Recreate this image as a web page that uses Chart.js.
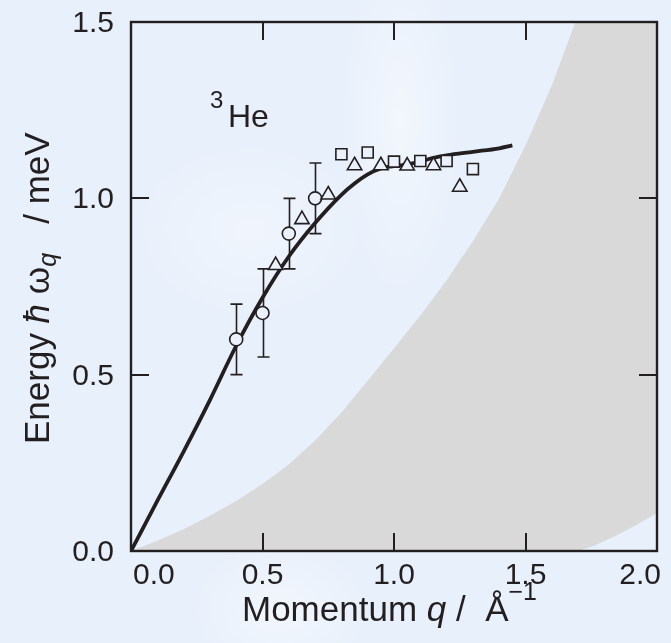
<!DOCTYPE html>
<html>
<head>
<meta charset="utf-8">
<script src="https://cdn.jsdelivr.net/npm/chart.js@4.4.1/dist/chart.umd.min.js"></script>
<style>
  html, body { margin: 0; padding: 0; }
  body {
    width: 671px; height: 643px; overflow: hidden;
    background-color: #e8f0fb;
    background-image:
      radial-gradient(ellipse 60px 180px at 400px 120px, rgba(255,255,255,0.45), rgba(255,255,255,0) 100%),
      radial-gradient(ellipse 120px 90px at 250px 230px, rgba(255,255,255,0.35), rgba(255,255,255,0) 100%),
      radial-gradient(ellipse 90px 70px at 280px 610px, rgba(255,255,255,0.45), rgba(255,255,255,0) 100%);
  }
  canvas { display: block; }
</style>
</head>
<body>
<canvas id="chart" width="671" height="643"></canvas>
<script>
// Axis ticks
const qTicks = [0.0, 0.5, 1.0, 1.5, 2.0];
const eTicks = [0.0, 0.5, 1.0, 1.5];

// Dispersion curve (solid line)
const curveQ = [0, 0.1, 0.2, 0.3, 0.4, 0.5, 0.6, 0.7, 0.8, 0.85, 0.9, 0.95, 1.0, 1.05, 1.1, 1.15, 1.2, 1.3, 1.4, 1.45];
const curveE = [0, 0.142, 0.282, 0.428, 0.582, 0.718, 0.835, 0.93, 1.01, 1.042, 1.068, 1.085, 1.091, 1.096, 1.104, 1.115, 1.122, 1.132, 1.142, 1.15];

// Open circles with error bars
const circleQ    = [0.4, 0.5, 0.6, 0.7];
const circleE    = [0.6, 0.675, 0.9, 1.0];
const circleLow  = [0.5, 0.55, 0.8, 0.9];
const circleHigh = [0.7, 0.8, 1.0, 1.1];

// Open triangles
const triQ = [0.55, 0.65, 0.75, 0.85, 0.95, 1.05, 1.15, 1.25];
const triE = [0.81, 0.94, 1.01, 1.093, 1.093, 1.092, 1.093, 1.032];

// Open squares
const sqQ = [0.8, 0.9, 1.0, 1.1, 1.2, 1.3];
const sqE = [1.125, 1.13, 1.104, 1.106, 1.106, 1.083];

// Particle-hole continuum: upper and lower edges
const upperQ = [0, 0.1, 0.2, 0.3, 0.4, 0.5, 0.6, 0.7, 0.8, 0.9, 1.0, 1.1, 1.2, 1.3, 1.4, 1.5, 1.6, 1.69];
const upperE = [0, 0.029, 0.062, 0.1, 0.142, 0.19, 0.245, 0.313, 0.393, 0.483, 0.575, 0.668, 0.768, 0.878, 1.0, 1.15, 1.32, 1.5];
const lowerQ = [1.70, 1.76, 1.84, 1.92, 2.0];
const lowerE = [0, 0.015, 0.042, 0.073, 0.108];

const INK = '#231f20';
const BG = '#eaf1fb';
const FONT = '"Liberation Sans", Arial, Helvetica, sans-serif';
const TICK = 18;

const pts = (xs, ys) => xs.map((v, i) => ({ x: v, y: ys[i] }));

// Closed outline of the shaded continuum region
const shadePts = [
  ...pts(upperQ, upperE),
  { x: 2.0, y: 1.5 },
  ...pts(lowerQ, lowerE).reverse()
];

const errorBars = {
  id: 'errorBars',
  beforeDatasetDraw(chart, args) {
    if (chart.data.datasets[args.index].label !== 'circles') return;
    const { ctx, scales: { x, y } } = chart;
    ctx.save();
    ctx.strokeStyle = INK;
    ctx.lineWidth = 1.6;
    ctx.beginPath();
    circleQ.forEach((q, i) => {
      const px = Math.round(x.getPixelForValue(q)) + 0.5;
      const top = y.getPixelForValue(circleHigh[i]);
      const bot = y.getPixelForValue(circleLow[i]);
      ctx.moveTo(px, top); ctx.lineTo(px, bot);
      ctx.moveTo(px - 6, top); ctx.lineTo(px + 6, top);
      ctx.moveTo(px - 6, bot); ctx.lineTo(px + 6, bot);
    });
    ctx.stroke();
    ctx.restore();
  }
};

function drawRuns(ctx, runs, x, y) {
  let cx = x;
  runs.forEach(r => {
    ctx.font = r.f + ' ' + FONT;
    ctx.fillText(r.t, cx, y + (r.dy || 0));
    cx += ctx.measureText(r.t).width;
  });
}

const frame = {
  id: 'frame',
  afterDraw(chart) {
    const { ctx, chartArea: a, scales: { x, y } } = chart;
    ctx.save();
    ctx.strokeStyle = INK;
    ctx.lineWidth = 2.4;
    ctx.strokeRect(a.left, a.top, a.right - a.left, a.bottom - a.top);

    // inward ticks on all four sides
    ctx.lineWidth = 2;
    ctx.beginPath();
    qTicks.forEach(v => {
      const px = Math.round(x.getPixelForValue(v));
      ctx.moveTo(px, a.bottom); ctx.lineTo(px, a.bottom - TICK);
      ctx.moveTo(px, a.top); ctx.lineTo(px, a.top + TICK);
    });
    eTicks.forEach(v => {
      const py = Math.round(y.getPixelForValue(v));
      ctx.moveTo(a.left, py); ctx.lineTo(a.left + TICK, py);
      ctx.moveTo(a.right, py); ctx.lineTo(a.right - TICK, py);
    });
    ctx.stroke();

    // tick labels; the end labels of the q axis sit inside the frame edges
    ctx.fillStyle = INK;
    ctx.font = '30px ' + FONT;
    ctx.textBaseline = 'alphabetic';
    qTicks.forEach((v, i) => {
      let px = x.getPixelForValue(v);
      ctx.textAlign = 'center';
      if (i === 0) { ctx.textAlign = 'left'; px = a.left + 2; }
      if (i === qTicks.length - 1) { ctx.textAlign = 'right'; px = a.right + 4; }
      ctx.fillText(v.toFixed(1), px, 584);
    });
    ctx.textAlign = 'right';
    eTicks.forEach(v => {
      ctx.fillText(v.toFixed(1), 114, y.getPixelForValue(v) + 10);
    });

    // x-axis title
    ctx.textAlign = 'left';
    drawRuns(ctx, [
      { t: 'Momentum ', f: '35px' },
      { t: 'q', f: 'italic 35px' },
      { t: ' /  Å', f: '35px' },
      { t: '−1', f: '25px', dy: -21 }
    ], 242, 621);

    // y-axis title (rotated)
    ctx.save();
    ctx.translate(49, 444);
    ctx.rotate(-Math.PI / 2);
    drawRuns(ctx, [
      { t: 'Energy ', f: '35px' },
      { t: 'ħ', f: 'italic 35px' },
      { t: ' ω', f: '35px' },
      { t: 'q', f: 'italic 25px', dy: 7 },
      { t: '   / meV', f: '35px' }
    ], 0, 0);
    ctx.restore();

    // isotope label
    drawRuns(ctx, [{ t: '3', f: '24px' }], 210, 108);
    drawRuns(ctx, [{ t: 'He', f: '32px' }], 228, 127);
    ctx.restore();
  }
};

new Chart(document.getElementById('chart'), {
  type: 'line',
  data: {
    datasets: [
      {
        label: 'continuum',
        data: shadePts,
        borderWidth: 0,
        borderColor: 'rgba(0,0,0,0)',
        backgroundColor: '#d9d9d9',
        fill: 'shape',
        tension: 0,
        pointRadius: 0,
        order: 10
      },
      {
        label: 'curve',
        data: pts(curveQ, curveE),
        borderColor: INK,
        borderWidth: 3.8,
        borderCapStyle: 'butt',
        cubicInterpolationMode: 'monotone',
        pointRadius: 0,
        fill: false,
        order: 5
      },
      {
        label: 'circles',
        data: pts(circleQ, circleE),
        showLine: false,
        pointStyle: 'circle',
        pointRadius: 6.5,
        pointBorderWidth: 1.6,
        pointBorderColor: INK,
        pointBackgroundColor: BG,
        order: 3
      },
      {
        label: 'triangles',
        data: pts(triQ, triE),
        showLine: false,
        pointStyle: 'triangle',
        pointRadius: 8.3,
        pointBorderWidth: 1.6,
        pointBorderColor: INK,
        pointBackgroundColor: BG,
        order: 2
      },
      {
        label: 'squares',
        data: pts(sqQ, sqE),
        showLine: false,
        pointStyle: 'rect',
        pointRadius: 7.8,
        pointBorderWidth: 1.6,
        pointBorderColor: INK,
        pointBackgroundColor: BG,
        order: 1
      }
    ]
  },
  options: {
    responsive: false,
    animation: false,
    devicePixelRatio: 1,
    layout: { padding: { left: 131, right: 14, top: 22, bottom: 92 } },
    scales: {
      x: { type: 'linear', min: 0, max: 2, display: false },
      y: { type: 'linear', min: 0, max: 1.5, display: false }
    },
    plugins: {
      legend: { display: false },
      tooltip: { enabled: false }
    },
    elements: { point: { hoverRadius: 0 } }
  },
  plugins: [errorBars, frame]
});
</script>
</body>
</html>
